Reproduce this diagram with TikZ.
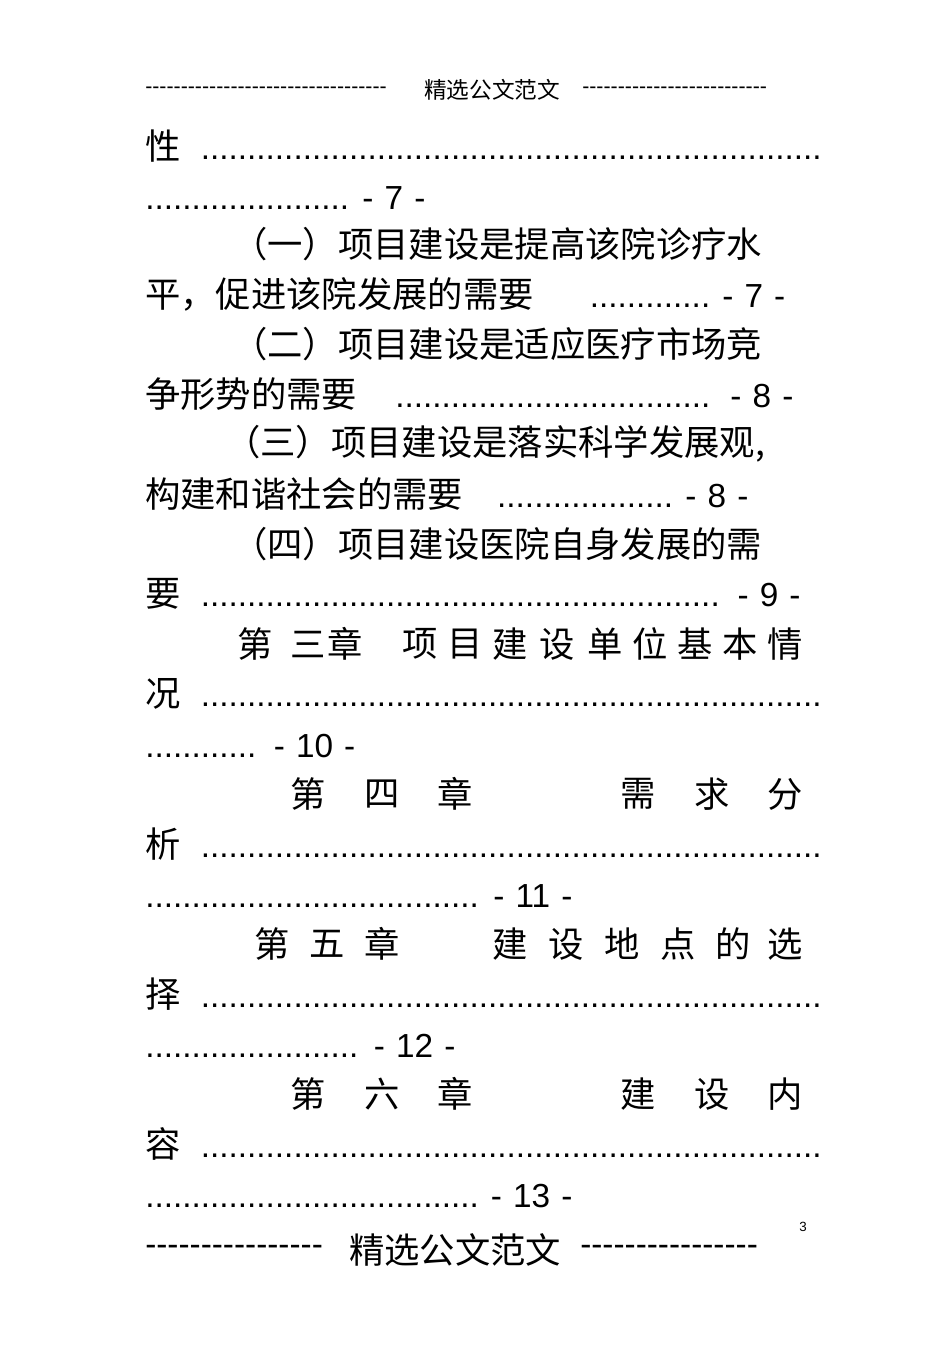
\documentclass[tikz,border=0pt]{standalone}
\usepackage{fontspec}
\setmainfont{Liberation Sans}
\newfontfamily\cjk{Noto Sans CJK SC}
\newcommand\dd{\leaders\hbox{.}\hfill}
\newcommand\dsh[1]{\hbox to #1\dimexpr0.75pt\relax{\leaders\hbox{-}\hfill}}
\tikzset{ln/.style={anchor=west,inner sep=0pt,font=\fontsize{25}{25}\selectfont,align=left},
 ch/.style={inner sep=0pt,font=\fontsize{26.5}{26.5}\selectfont\cjk},
 cl/.style={anchor=west,inner sep=0pt,font=\fontsize{26.5}{26.5}\selectfont\cjk}}
\newcommand\tl[4]{\node[ln,text width=#3*0.75pt-#2*0.75pt] (n#1) at (#2,#1) {#4\null};}
\begin{document}
\begin{tikzpicture}[x=0.75pt,y=-0.75pt]
\useasboundingbox (0,0) rectangle (950,1345);
\node[ln,font=\fontsize{16}{16}\selectfont] (hd1) at (145,90) {\dsh{247}};
\node[inner sep=0pt,font=\fontsize{17}{17}\selectfont\cjk] (hd2) at (492,90) {精选公文范文};
\node[ln,font=\fontsize{16}{16}\selectfont] (hd3) at (582,90) {\dsh{191}};
\tl{146}{145}{828}{{\cjk\fontsize{26.5}{26.5}\selectfont 性}\ \dd}
\tl{198}{145}{425}{\dd\ - 7 -}
\node[cl] (a1) at (232,244) {（一）项目建设是提高该院诊疗水};
\tl{294}{145}{785}{{\cjk\fontsize{26.5}{26.5}\selectfont 平，促进该院发展的需要}\hskip 35pt\dd\ - 7 -}
\node[cl] (a2) at (232,344) {（二）项目建设是适应医疗市场竞};
\tl{394}{145}{793}{{\cjk\fontsize{26.5}{26.5}\selectfont 争形势的需要}\hskip 25pt\dd\ - 8 -}
\node[cl] (a3) at (225,444) {（三）项目建设是落实科学发展观,};
\tl{494}{145}{748}{{\cjk\fontsize{26.5}{26.5}\selectfont 构建和谐社会的需要}\hskip 25pt\dd\ - 8 -}
\node[cl] (a4) at (232,544) {（四）项目建设医院自身发展的需};
\tl{594}{145}{800}{{\cjk\fontsize{26.5}{26.5}\selectfont 要}\ \dd\ - 9 -}
\foreach \c/\x [count=\i] in {第/255,三/308,章/345,项/420,目/465,建/510,设/557,单/605,位/650,基/695,本/740,情/785}
  \node[ch] (c1\i) at (\x,644) {\c};
\tl{694}{145}{828}{{\cjk\fontsize{26.5}{26.5}\selectfont 况}\ \dd}
\tl{746}{145}{355}{\dd\ - 10 -}
\foreach \c/\x [count=\i] in {第/308,四/382,章/455,需/638,求/712,分/785}
  \node[ch] (c2\i) at (\x,794) {\c};
\tl{844}{145}{828}{{\cjk\fontsize{26.5}{26.5}\selectfont 析}\ \dd}
\tl{896}{145}{572}{\dd\ - 11 -}
\foreach \c/\x [count=\i] in {第/272,五/327,章/382,建/510,设/566,地/622,点/678,的/733,选/785}
  \node[ch] (c3\i) at (\x,944) {\c};
\tl{994}{145}{828}{{\cjk\fontsize{26.5}{26.5}\selectfont 择}\ \dd}
\tl{1046}{145}{455}{\dd\ - 12 -}
\foreach \c/\x [count=\i] in {第/308,六/382,章/455,建/638,设/712,内/785}
  \node[ch] (c4\i) at (\x,1094) {\c};
\tl{1144}{145}{828}{{\cjk\fontsize{26.5}{26.5}\selectfont 容}\ \dd}
\tl{1196}{145}{572}{\dd\ - 13 -}
\node[inner sep=0pt,font=\fontsize{10}{10}\selectfont] (pg) at (803,1227) {3};
\node[ln] (ft1) at (145,1250) {\dsh{188}};
\node[inner sep=0pt,font=\fontsize{26.5}{26.5}\selectfont\cjk] (ft2) at (455,1250) {精选公文范文};
\node[ln] (ft3) at (580,1250) {\dsh{188}};
\end{tikzpicture}
\end{document}
